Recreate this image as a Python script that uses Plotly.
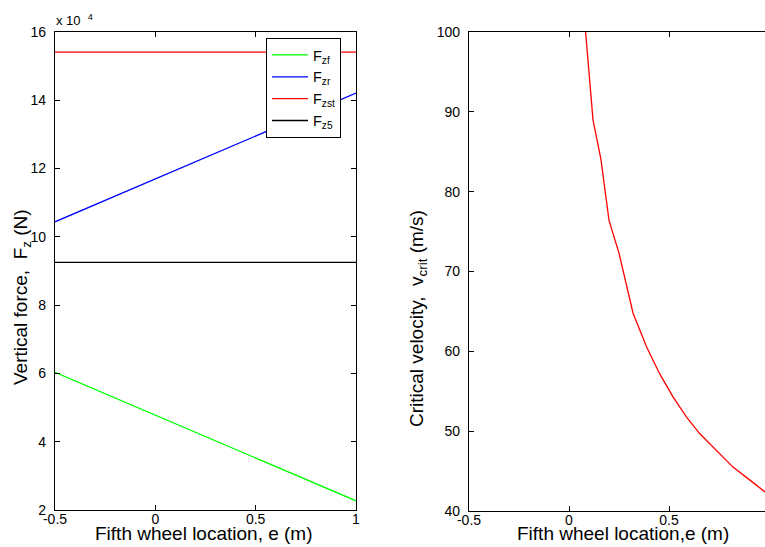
import plotly.graph_objects as go

# ---------------- data ----------------
# left panel: vertical forces vs fifth wheel location (N)
e_force = [-0.5, 0.0, 0.5, 1.0]
F_zf = [60300, 47800, 35200, 22700]
F_zr = [104400, 116900, 129500, 142100]
F_zst = [154100, 154100, 154100, 154100]
F_z5 = [92500, 92500, 92500, 92500]

# right panel: critical velocity vs fifth wheel location
e_crit = [0.083, 0.12, 0.16, 0.20, 0.25, 0.30, 0.32, 0.387, 0.453, 0.52,
          0.587, 0.653, 0.737, 0.82, 0.903, 0.978, 1.0]
v_crit = [100.0, 89.0, 84.0, 76.4, 72.3, 66.8, 64.8, 60.6, 57.2, 54.3,
          51.8, 49.7, 47.6, 45.5, 43.9, 42.4, 42.0]

x_ticks = [-0.5, 0, 0.5, 1]
x_ticklabels = ["-0.5", "0", "0.5", "1"]
left_y_ticklabels = ["2", "4", "6", "8", "10", "12", "14", "16"]
right_y_ticks = [40, 50, 60, 70, 80, 90, 100]

# ---------------- figure ----------------
W, H = 765, 547
FONT = "Arial, 'Liberation Sans', sans-serif"

fig = go.Figure()
lw = 1.3
fig.add_trace(go.Scatter(x=e_force, y=F_zf, mode="lines", name="F<sub>zf</sub>",
                         line=dict(color="#00ff00", width=lw), xaxis="x", yaxis="y"))
fig.add_trace(go.Scatter(x=e_force, y=F_zr, mode="lines", name="F<sub>zr</sub>",
                         line=dict(color="#0000ff", width=lw), xaxis="x", yaxis="y"))
fig.add_trace(go.Scatter(x=e_force, y=F_zst, mode="lines", name="F<sub>zst</sub>",
                         line=dict(color="#ff0000", width=lw), xaxis="x", yaxis="y"))
fig.add_trace(go.Scatter(x=e_force, y=F_z5, mode="lines", name="F<sub>z5</sub>",
                         line=dict(color="#000000", width=lw), xaxis="x", yaxis="y"))
fig.add_trace(go.Scatter(x=e_crit, y=v_crit, mode="lines", showlegend=False,
                         line=dict(color="#ff0000", width=lw), xaxis="x2", yaxis="y2"))

def px_x(p):
    return p / W

def px_y(p):
    return 1 - p / H

common = dict(ticks="inside", ticklen=5, tickwidth=1, tickcolor="black",
              showline=True, linecolor="black", linewidth=1.3,
              showgrid=False, zeroline=False, automargin=False,
              tickfont=dict(family=FONT, size=14, color="black"))

fig.update_layout(
    width=W, height=H,
    autosize=False,
    margin=dict(l=0, r=0, t=0, b=0, pad=0, autoexpand=False),
    paper_bgcolor="white", plot_bgcolor="white",
    font=dict(family=FONT, color="black"),
    xaxis=dict(domain=[px_x(55), px_x(356)], range=[-0.5, 1],
               tickvals=x_ticks, ticktext=x_ticklabels, mirror="ticks",
               anchor="y", ticklabelstandoff=-4, **common),
    yaxis=dict(domain=[px_y(510), px_y(32)], range=[20000, 160000],
               tickvals=[int(t) * 10000 for t in left_y_ticklabels],
               ticktext=left_y_ticklabels, mirror="ticks", anchor="x",
               ticklabelstandoff=5, **common),
    xaxis2=dict(domain=[px_x(469), 1.0], range=[-0.5, 0.98],
                tickvals=x_ticks[:3], ticktext=x_ticklabels[:3], mirror="ticks",
                anchor="y2", ticklabelstandoff=-4, **common),
    yaxis2=dict(domain=[px_y(511), px_y(32)], range=[40, 100],
                tickvals=right_y_ticks, mirror=False, anchor="x2",
                ticklabelstandoff=5, **common),
    legend=dict(x=px_x(266), y=px_y(38), xanchor="left", yanchor="top",
                bordercolor="black", borderwidth=1, bgcolor="white",
                font=dict(family=FONT, size=14.5, color="black"),
                itemwidth=36, tracegroupgap=0),
    showlegend=True,
)

ann_font = dict(family=FONT, size=19, color="black")
fig.add_annotation(text="x 10&nbsp;&nbsp;<sup>4</sup>", xref="paper", yref="paper",
                   x=px_x(54), y=px_y(20), xanchor="left", yanchor="middle",
                   showarrow=False, font=dict(family=FONT, size=13, color="black"))
fig.add_annotation(text="Fifth wheel location, e (m)", xref="paper", yref="paper",
                   x=px_x(204), y=px_y(533), xanchor="center", yanchor="middle",
                   showarrow=False, font=ann_font)
fig.add_annotation(text="Fifth wheel location,e (m)", xref="paper", yref="paper",
                   x=px_x(623), y=px_y(533), xanchor="center", yanchor="middle",
                   showarrow=False, font=ann_font)
fig.add_annotation(text="Vertical force,&nbsp;&nbsp;F<sub>z</sub> (N)", xref="paper", yref="paper",
                   x=px_x(22), y=px_y(297), xanchor="center", yanchor="middle",
                   textangle=-90, showarrow=False, font=ann_font)
fig.add_annotation(text="Critical velocity,&nbsp;&nbsp;v<sub>crit</sub> (m/s)", xref="paper", yref="paper",
                   x=px_x(418), y=px_y(318), xanchor="center", yanchor="middle",
                   textangle=-90, showarrow=False, font=ann_font)

fig.write_html(
    "out.html",
    config={"displayModeBar": False},
    post_script="document.body.style.margin='0';document.body.style.overflow='hidden';",
)
